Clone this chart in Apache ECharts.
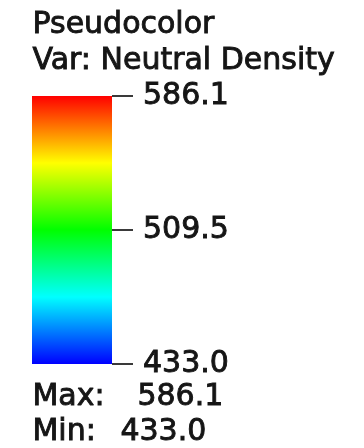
<!DOCTYPE html>
<html>
<head>
<meta charset="utf-8">
<script src="https://cdn.jsdelivr.net/npm/echarts@6/dist/echarts.min.js"></script>
<style>
html,body{margin:0;padding:0;background:#fff;}
#chart{width:364px;height:448px;}
</style>
</head>
<body>
<div id="chart"></div>
<script>
// Data
var plotName = 'Pseudocolor';
var varName = 'Neutral Density';
var dataMin = 433.0;
var dataMax = 586.1;
var tickValues = [433.0, 509.5, 586.1];
var categories = ['legend'];
var barValues = [586.1];
// color table (bottom -> top)
var colorTable = ['#0000ff', '#00ffff', '#00ff00', '#ffff00', '#ff0000'];

var FONT = '"DejaVu Sans", sans-serif';
var TXT = '#151515';
var STROKE_W = 0.9;

var stops = colorTable.map(function (c, i) {
  return { offset: 1 - i / (colorTable.length - 1), color: c };
});

function txt(left, top, text) {
  return {
    type: 'text', left: left, top: top,
    style: { text: text, font: '30px ' + FONT, fill: TXT, stroke: TXT, lineWidth: STROKE_W }
  };
}

var chart = echarts.init(document.getElementById('chart'), null, { renderer: 'canvas' });
chart.setOption({
  animation: false,
  backgroundColor: '#ffffff',
  grid: { left: 32, width: 80, top: 96, bottom: 84, containLabel: false },
  xAxis: {
    type: 'category',
    data: categories,
    show: false
  },
  yAxis: {
    type: 'value',
    position: 'right',
    min: dataMin,
    max: dataMax,
    splitLine: { show: false },
    axisLine: { show: false },
    axisTick: {
      show: true,
      inside: false,
      length: 21,
      customValues: tickValues,
      lineStyle: { color: '#3a3a3a', width: 2 }
    },
    axisLabel: {
      show: true,
      margin: 31,
      customValues: tickValues,
      fontFamily: FONT,
      fontSize: 30,
      color: TXT,
      textBorderColor: TXT,
      textBorderWidth: STROKE_W,
      formatter: function (v) { return Number(v).toFixed(1); }
    }
  },
  series: [{
    type: 'bar',
    data: barValues,
    barWidth: 80,
    clip: true,
    itemStyle: {
      color: new echarts.graphic.LinearGradient(0, 0, 0, 1, stops)
    }
  }],
  graphic: [
    txt(32, 10, plotName),
    txt(32, 46, 'Var: ' + varName),
    txt(32, 382, 'Max:'),
    txt(137, 382, dataMax.toFixed(1)),
    txt(32, 417, 'Min:'),
    txt(120, 417, dataMin.toFixed(1))
  ]
});
</script>
</body>
</html>
